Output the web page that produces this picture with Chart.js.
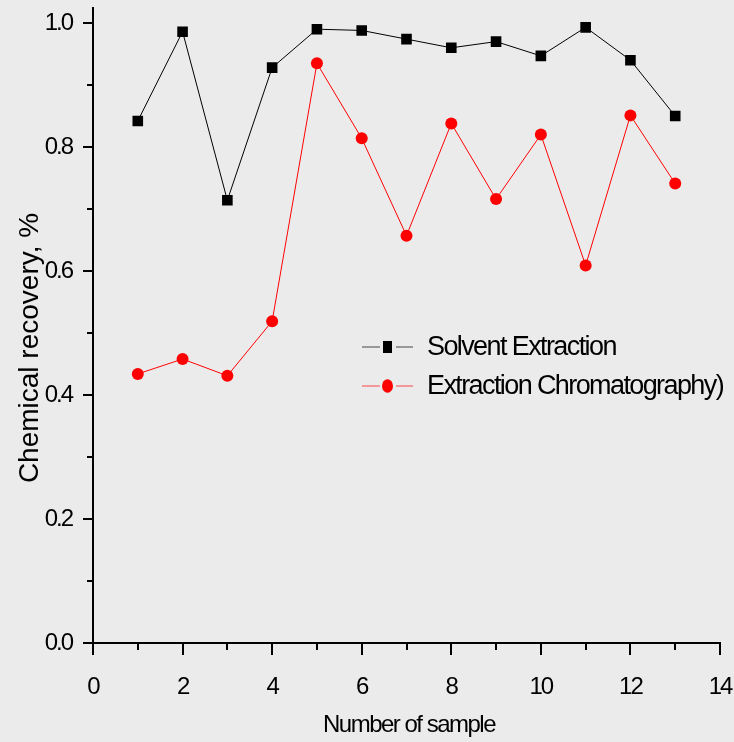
<!DOCTYPE html>
<html>
<head>
<meta charset="utf-8">
<script src="https://cdn.jsdelivr.net/npm/chart.js@4.4.1/dist/chart.umd.min.js"></script>
<style>
  html, body { margin: 0; padding: 0; background: #ebebeb; }
  #wrap { width: 734px; height: 742px; }
</style>
</head>
<body>
<div id="wrap"><canvas id="recoveryChart" width="734" height="742"></canvas></div>
<script>
// --- DATA ---
const sampleNo = [1, 2, 3, 4, 5, 6, 7, 8, 9, 10, 11, 12, 13];
const solventExtraction = [0.842, 0.986, 0.714, 0.928, 0.990, 0.988, 0.974, 0.960, 0.970, 0.947, 0.993, 0.940, 0.850];
const extractionChrom = [0.434, 0.458, 0.431, 0.519, 0.935, 0.814, 0.657, 0.838, 0.716, 0.820, 0.609, 0.851, 0.741];
const seriesNames = ['Solvent Extraction', 'Extraction Chromatography)'];
const xTitle = 'Number of sample';
const yTitle = 'Chemical recovery, %';

const FONT = "'Liberation Sans', Arial, sans-serif";

// --- PLUGIN: sumbu, tick, judul, legend ---
const axisPlugin = {
    id: 'axisPlugin',
    beforeDraw(chart) {
        chart.ctx.letterSpacing = '-2px';
    },
    afterDraw(chart) {
        const ctx = chart.ctx;
        const xs = chart.scales.x, ys = chart.scales.y;
        const area = chart.chartArea;
        ctx.save();
        ctx.strokeStyle = '#000';
        ctx.lineWidth = 2;
        // tick marks (major panjang, minor pendek)
        ys.ticks.forEach(t => {
            const y = Math.round(ys.getPixelForValue(t.value));
            const major = Math.round(t.value * 10) % 2 === 0;
            ctx.beginPath();
            ctx.moveTo(area.left, y);
            ctx.lineTo(area.left - (major ? 10 : 6), y);
            ctx.stroke();
        });
        xs.ticks.forEach(t => {
            const x = Math.round(xs.getPixelForValue(t.value));
            const major = t.value % 2 === 0;
            ctx.beginPath();
            ctx.moveTo(x, area.bottom);
            ctx.lineTo(x, area.bottom + (major ? 12 : 7));
            ctx.stroke();
        });

        // judul sumbu
        ctx.fillStyle = '#000';
        ctx.letterSpacing = '-1.5px';
        ctx.font = '24px ' + FONT;
        ctx.textAlign = 'center';
        ctx.textBaseline = 'alphabetic';
        ctx.fillText(xTitle, 409, 732);

        ctx.letterSpacing = '0px';
        ctx.font = '28px ' + FONT;
        ctx.translate(38, 348);
        ctx.rotate(-Math.PI / 2);
        ctx.fillText(yTitle, 0, 0);
        ctx.restore();

        // legend
        ctx.save();
        const rows = [347, 386];
        chart.data.datasets.forEach((ds, i) => {
            const y = rows[i];
            ctx.strokeStyle = ds.borderColor;
            ctx.globalAlpha = 0.7;
            ctx.lineWidth = 1;
            ctx.beginPath();
            ctx.moveTo(362, y);
            ctx.lineTo(380, y);
            ctx.moveTo(396, y);
            ctx.lineTo(413, y);
            ctx.stroke();
            ctx.globalAlpha = 1;
            ctx.fillStyle = ds.backgroundColor;
            if (ds.pointStyle === 'rect') {
                ctx.fillRect(383, y - 6, 9, 12);
            } else {
                ctx.beginPath();
                ctx.ellipse(387.5, y, 5.5, 6.8, 0, 0, Math.PI * 2);
                ctx.fill();
            }
            ctx.fillStyle = '#000';
            ctx.letterSpacing = '-1.6px';
            ctx.font = '27px ' + FONT;
            ctx.textAlign = 'left';
            ctx.textBaseline = 'middle';
            ctx.fillText(ds.label, 427, y + 1);
        });
        ctx.restore();
    }
};

function toPoints(values) {
    return sampleNo.map((x, i) => ({ x: x, y: values[i] }));
}

const ctx = document.getElementById('recoveryChart').getContext('2d');
window.recoveryChart = new Chart(ctx, {
    type: 'line',
    data: {
        datasets: [{
            label: seriesNames[0],
            data: toPoints(solventExtraction),
            borderColor: '#000000',
            backgroundColor: '#000000',
            borderWidth: 1,
            pointStyle: 'rect',
            pointRadius: 7.5,
            pointBorderWidth: 0,
            tension: 0
        }, {
            label: seriesNames[1],
            data: toPoints(extractionChrom),
            borderColor: '#ff0000',
            backgroundColor: '#ff0000',
            borderWidth: 1,
            pointStyle: 'circle',
            pointRadius: 6,
            pointBorderWidth: 0,
            tension: 0
        }]
    },
    options: {
        responsive: false,
        animation: false,
        devicePixelRatio: 1,
        layout: { padding: { top: 5, right: 14, left: 0, bottom: 0 } },
        plugins: {
            legend: { display: false },
            tooltip: { enabled: false }
        },
        scales: {
            x: {
                type: 'linear',
                min: 0,
                max: 14,
                grid: { display: false },
                border: { display: true, color: '#000', width: 2 },
                ticks: {
                    stepSize: 1,
                    autoSkip: false,
                    maxRotation: 0,
                    padding: 22,
                    color: '#000',
                    font: { family: FONT, size: 24 },
                    callback: (v) => (v % 2 === 0 ? String(v) : '')
                },
                afterFit(scale) {
                    scale.height = 99;
                    scale.paddingLeft = 0;
                    scale.paddingRight = 0;
                }
            },
            y: {
                min: 0,
                max: 1.025,
                grid: { display: false },
                border: { display: true, color: '#000', width: 2 },
                ticks: {
                    stepSize: 0.1,
                    includeBounds: false,
                    autoSkip: false,
                    padding: 13,
                    color: '#000',
                    font: { family: FONT, size: 24 },
                    callback: (v) => (Math.round(v * 10) % 2 === 0 ? v.toFixed(1) : '')
                },
                afterFit(scale) {
                    scale.width = 93;
                    scale.paddingTop = 0;
                    scale.paddingBottom = 0;
                }
            }
        }
    },
    plugins: [axisPlugin]
});
</script>
</body>
</html>
